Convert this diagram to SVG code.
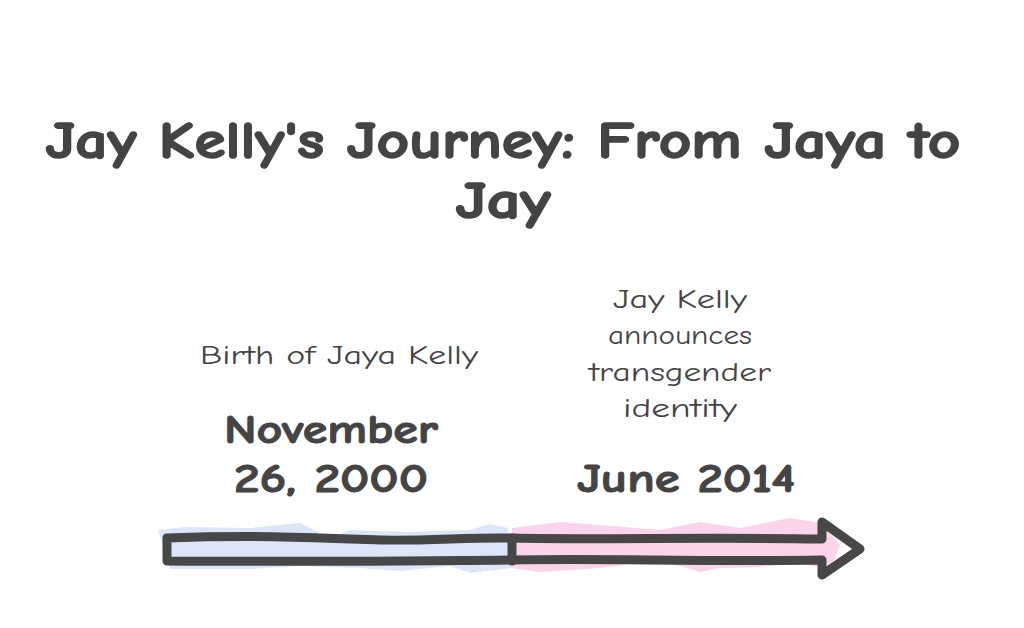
<svg xmlns="http://www.w3.org/2000/svg" width="1024" height="628" viewBox="0 0 1024 628">
<style>
.t{font-family:"Comic Neue","Noto Sans","Liberation Sans",sans-serif;fill:#444;text-anchor:middle}
.title{font-size:52px;font-weight:bold;stroke:#444;stroke-width:1.6}
.date{font-size:40px;font-weight:bold;stroke:#444;stroke-width:1}
.lab{font-size:27px}
.out{fill:none;stroke:#474747;stroke-width:9;stroke-linejoin:round;stroke-linecap:round}
</style>
<rect width="1024" height="628" fill="#fff"/>
<g id="title">
<text class="t title" x="503" y="158" textLength="915" lengthAdjust="spacingAndGlyphs">Jay Kelly's Journey: From Jaya to</text>
<text class="t title" x="503" y="218" textLength="95" lengthAdjust="spacingAndGlyphs">Jay</text>
</g>
<g id="event1">
<text class="t lab" x="339" y="364" textLength="278" lengthAdjust="spacingAndGlyphs">Birth of Jaya Kelly</text>
<text class="t date" x="331" y="443" textLength="214" lengthAdjust="spacingAndGlyphs">November</text>
<text class="t date" x="331" y="492" textLength="194" lengthAdjust="spacingAndGlyphs">26, 2000</text>
</g>
<g id="event2">
<text class="t lab" x="680" y="308" textLength="134" lengthAdjust="spacingAndGlyphs">Jay Kelly</text>
<text class="t lab" x="680" y="344" textLength="144" lengthAdjust="spacingAndGlyphs">announces</text>
<text class="t lab" x="680" y="381" textLength="182" lengthAdjust="spacingAndGlyphs">transgender</text>
<text class="t lab" x="680" y="417" textLength="114" lengthAdjust="spacingAndGlyphs">identity</text>
<text class="t date" x="686" y="492" textLength="218" lengthAdjust="spacingAndGlyphs">June 2014</text>
</g>
<g id="connectors">
<polygon points="158,530 185,527 250,528 300,523 330,538 350,530 410,532 470,530 490,524 508,528 512,568 470,573 450,566 400,571 360,568 300,566 250,569 170,569" fill="#dbe6fb"/>
<polygon points="512,528 560,522 600,525 660,530 700,522 740,528 790,518 820,523 840,545 830,570 800,563 760,567 720,568 700,572 660,560 600,568 540,572 512,568" fill="#fbd3ea"/>
<path class="out" d="M167,538 C250,535 300,537 380,540 C430,541 470,537 512,538 C600,540 700,537 822,539 L822,522 L860,549 L822,575 L822,560 C700,562 600,558 512,560 C400,561 300,562 167,561 Z"/>
<path class="out" d="M512,538 L512,561"/>
</g>
</svg>
